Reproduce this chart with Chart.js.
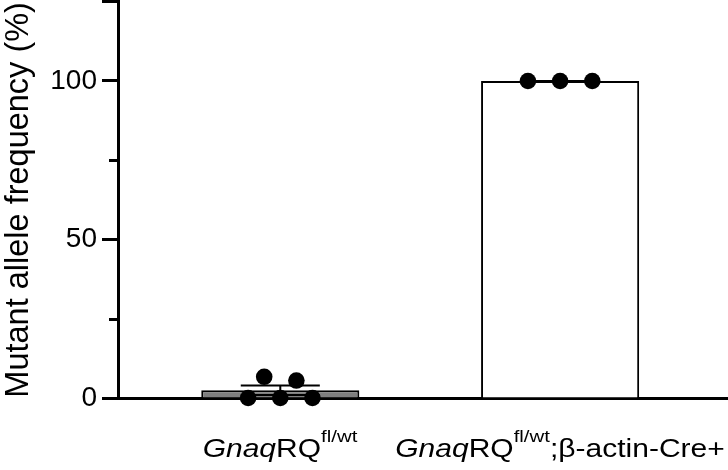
<!DOCTYPE html>
<html>
<head>
<meta charset="utf-8">
<script src="https://cdn.jsdelivr.net/npm/chart.js@4/dist/chart.umd.min.js"></script>
<style>
  html, body { margin: 0; padding: 0; background: #fff; }
  #wrap { position: relative; width: 728px; height: 470px; overflow: hidden; }
  .xlab {
    position: absolute;
    white-space: nowrap;
    font-family: "Liberation Sans", Arial, sans-serif;
    font-size: 25px;
    line-height: 25px;
    color: #000;
    transform: translateX(-50%) scaleX(1.2);
  }
  .xlab sup { font-size: 17px; line-height: 0; vertical-align: baseline; position: relative; top: -15px; }
</style>
</head>
<body>
<div id="wrap">
  <canvas id="chart" width="728" height="470"></canvas>
</div>
<script>
// Group names (markup for italic gene name + superscript allele)
const categories = ['<i>Gnaq</i>RQ<sup>fl/wt</sup>', '<i>Gnaq</i>RQ<sup>fl/wt</sup>;β-actin-Cre+'];

// Mutant allele frequency (%) per animal
const floxedValues = [6.7, 5.5, 0, 0, 0];
const creValues = [100, 100, 100];

// y axis ticks
const yLabeledTicks = [0, 50, 100];
const yMinorTicks = [25, 75];

const groups = [floxedValues, creValues];

function meanSem(vals) {
    const n = vals.length;
    const mean = vals.reduce((a, b) => a + b, 0) / n;
    const sd = Math.sqrt(vals.reduce((a, b) => a + (b - mean) * (b - mean), 0) / (n - 1));
    return { mean: mean, sem: sd / Math.sqrt(n) };
}
const stats = groups.map(meanSem);

// spread points that sit at about the same height sideways (simple beeswarm)
function spreadOffsets(vals, rowTol, step) {
    const order = vals.map((v, i) => i).sort((a, b) => vals[a] - vals[b]);
    const offs = new Array(vals.length).fill(0);
    let row = [];
    const flush = () => {
        row.sort((a, b) => a - b);
        row.forEach((idx, j) => { offs[idx] = (j - (row.length - 1) / 2) * step; });
        row = [];
    };
    order.forEach(idx => {
        if (row.length && vals[idx] - vals[row[0]] > rowTol) flush();
        row.push(idx);
    });
    flush();
    return offs;
}

const barPoints = stats.map((s, i) => ({ x: i, y: s.mean }));
const dotPoints = [];
groups.forEach((vals, g) => {
    const offs = spreadOffsets(vals, 3, 0.115);
    vals.forEach((v, k) => dotPoints.push({ x: g + offs[k], y: v }));
});

const errorBarPlugin = {
    id: 'errorBars',
    afterDatasetDraw(chart, args) {
        if (args.meta.type !== 'bar') return;
        const ctx = chart.ctx;
        const y = chart.scales.y;
        ctx.save();
        ctx.strokeStyle = '#000';
        ctx.lineWidth = 2;
        args.meta.data.forEach((bar, i) => {
            const s = stats[i];
            const half = bar.width / 4;
            const yTop = y.getPixelForValue(s.mean + s.sem);
            const yBot = y.getPixelForValue(s.mean - s.sem);
            ctx.beginPath();
            ctx.moveTo(bar.x, yTop); ctx.lineTo(bar.x, yBot);
            ctx.moveTo(bar.x - half, yTop); ctx.lineTo(bar.x + half, yTop);
            ctx.moveTo(bar.x - half, yBot); ctx.lineTo(bar.x + half, yBot);
            ctx.stroke();
        });
        ctx.restore();
    }
};

const minorTickPlugin = {
    id: 'minorTicks',
    afterDraw(chart) {
        const ctx = chart.ctx;
        const y = chart.scales.y;
        ctx.save();
        ctx.strokeStyle = '#000';
        ctx.lineWidth = 3;
        yMinorTicks.forEach(v => {
            const py = Math.round(y.getPixelForValue(v)) + 0.5;
            ctx.beginPath();
            ctx.moveTo(y.right - 9, py);
            ctx.lineTo(y.right, py);
            ctx.stroke();
        });
        ctx.restore();
    }
};

const groupLabelPlugin = {
    id: 'groupLabels',
    afterRender(chart) {
        if (chart.$labelsDone) return;
        chart.$labelsDone = true;
        const x = chart.scales.x;
        const wrap = document.getElementById('wrap');
        categories.forEach((html, i) => {
            const el = document.createElement('div');
            el.className = 'xlab';
            el.innerHTML = html;
            el.style.left = x.getPixelForValue(i) + 'px';
            el.style.top = (x.top + 38) + 'px';
            wrap.appendChild(el);
        });
    }
};

const ctx = document.getElementById('chart').getContext('2d');
new Chart(ctx, {
    type: 'bar',
    data: {
        datasets: [{
            type: 'scatter',
            data: dotPoints,
            order: 0,
            pointRadius: 8.3,
            pointHoverRadius: 8.3,
            backgroundColor: '#000',
            borderWidth: 0,
            clip: false
        }, {
            type: 'bar',
            data: barPoints,
            order: 1,
            backgroundColor: ['#7f7f7f', '#ffffff'],
            borderColor: '#000',
            borderWidth: 2,
            borderSkipped: 'start',
            barPercentage: 0.565,
            categoryPercentage: 1
        }]
    },
    options: {
        responsive: false,
        animation: false,
        devicePixelRatio: 1,
        layout: { autoPadding: false, padding: { top: 1.75, left: 0, right: 0, bottom: 0 } },
        plugins: { legend: { display: false }, tooltip: { enabled: false } },
        scales: {
            x: {
                type: 'linear',
                min: -0.58,
                max: 1.6,
                offset: false,
                z: 1,
                grid: { display: false },
                ticks: { display: false },
                afterBuildTicks: (scale) => { scale.ticks = categories.map((c, i) => ({ value: i })); },
                border: { display: true, color: '#000', width: 3 },
                afterFit: (scale) => { scale.height = 72; }
            },
            y: {
                min: 0,
                max: 125,
                ticks: {
                    stepSize: 25,
                    padding: 5,
                    color: '#000',
                    font: { family: '"Liberation Sans", Arial, sans-serif', size: 28 },
                    callback: (v) => yLabeledTicks.includes(v) ? String(v) : ''
                },
                grid: {
                    drawOnChartArea: false,
                    tickLength: 16,
                    tickWidth: 3,
                    tickColor: (c) => (c.tick && yMinorTicks.includes(c.tick.value)) ? 'rgba(0,0,0,0)' : '#000'
                },
                border: { display: true, color: '#000', width: 3 },
                title: {
                    display: true,
                    text: 'Mutant allele frequency (%)',
                    color: '#000',
                    padding: { top: 0, bottom: 0 },
                    font: { family: '"Liberation Sans", Arial, sans-serif', size: 32.5, weight: 'normal' }
                },
                afterFit: (scale) => {
                    scale.width = 118;
                    scale.paddingTop = 0;
                    scale.paddingBottom = 0;
                }
            }
        }
    },
    plugins: [errorBarPlugin, minorTickPlugin, groupLabelPlugin]
});
</script>
</body>
</html>
